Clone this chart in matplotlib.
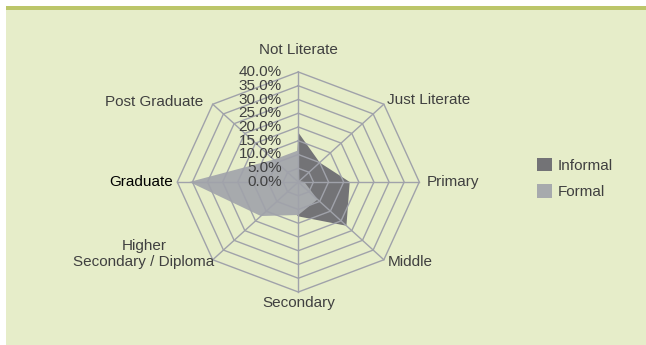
import numpy as np
import matplotlib.pyplot as plt
from matplotlib.patches import Rectangle, Patch

# employment share by education level (%)
categories = ['Not Literate', 'Just Literate', 'Primary', 'Middle', 'Secondary',
              'Higher\nSecondary / Diploma', 'Graduate', 'Post Graduate']
informal = [18.0, 10.0, 17.0, 22.5, 12.5, 9.0, 10.0, 1.0]
formal = [11.5, 0.5, 2.0, 9.0, 12.0, 17.5, 36.0, 11.5]
rings = [0, 5, 10, 15, 20, 25, 30, 35, 40]

plt.rcParams['font.family'] = ['Liberation Sans', 'DejaVu Sans']
txt_col = '#404040'
grid_col = '#A0A2AA'
fs = 11

fig = plt.figure(figsize=(6.46, 3.45), dpi=100)
fig.patch.set_facecolor('white')
W, H = 646, 345
# panel background and the rule on top of it (behind the axes)
fig.patches.append(Rectangle((6 / W, 0), 1, (H - 9.5) / H, transform=fig.transFigure,
                             facecolor='#E6EDC9', edgecolor='none', zorder=-2))
fig.patches.append(Rectangle((6 / W, (H - 9.5) / H), 1, 3.8 / H, transform=fig.transFigure,
                             facecolor='#BCC66A', edgecolor='none', zorder=-2))

# radar area: 40% -> 121 px across, 110 px up/down, centre at (298, 182)
cx, cy, rx, ry = 298.3, 182.0, 121.0, 110.0
lim = 45
ax = fig.add_axes([(cx - rx * lim / 40) / W, (H - cy - ry * lim / 40) / H,
                   2 * rx * lim / 40 / W, 2 * ry * lim / 40 / H])
ax.set_xlim(-lim, lim)
ax.set_ylim(-lim, lim)
ax.axis('off')

angles = np.arange(len(categories)) * 2 * np.pi / len(categories)


def polygon(vals):
    vals = np.asarray(vals, dtype=float)
    x = np.sin(angles) * vals
    y = np.cos(angles) * vals
    return np.append(x, x[0]), np.append(y, y[0])


xi, yi = polygon(informal)
xf, yf = polygon(formal)
ax.fill(xi, yi, color='#737376', lw=0, zorder=2)
ax.fill(xf, yf, color='#A7AAAD', lw=0, zorder=3)

# octagonal grid and spokes
for r in rings[1:]:
    gx, gy = polygon([r] * len(categories))
    ax.plot(gx, gy, color=grid_col, lw=1, zorder=4)
for a in angles:
    ax.plot([0, 40 * np.sin(a)], [0, 40 * np.cos(a)], color=grid_col, lw=1, zorder=4)

for r in rings:
    ax.text(-5.5, r, f'{r:.1f}%', ha='right', va='center', fontsize=fs,
            color=txt_col, zorder=6)

# category labels around the outer ring
offsets = [(0, 22), (3, 4), (7, 0), (4, -2), (0, -11), (2, 6), (-4, 0), (-9, 2)]
aligns = ['center', 'left', 'left', 'left', 'center', 'right', 'right', 'right']
for cat, a, off, ha in zip(categories, angles, offsets, aligns):
    ax.annotate(cat, (40 * np.sin(a), 40 * np.cos(a)), xytext=off,
                textcoords='offset pixels', ha=ha, va='center', multialignment='center',
                fontsize=fs, color='black' if cat == 'Graduate' else txt_col,
                annotation_clip=False, zorder=6)

handles = [Patch(facecolor='#737376', edgecolor='none'),
           Patch(facecolor='#A7AAAD', edgecolor='none')]
leg = fig.legend(handles, ['Informal', 'Formal'], loc='center left',
                 bbox_to_anchor=(537 / W, 1 - 178.4 / H), frameon=False, fontsize=fs,
                 handlelength=1.0, handleheight=1.0, handletextpad=0.35,
                 labelspacing=0.75, borderpad=0, borderaxespad=0)
for t in leg.get_texts():
    t.set_color(txt_col)

fig.savefig('out.png', dpi=100)
